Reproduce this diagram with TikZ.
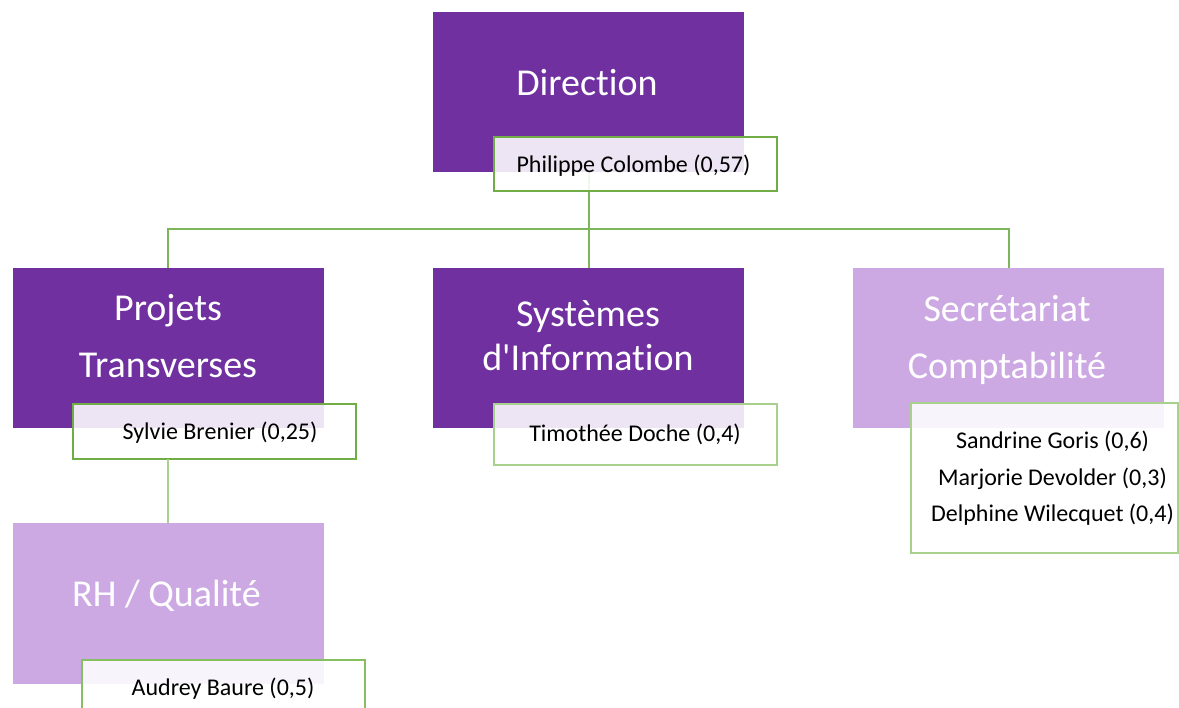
\documentclass[tikz,border=0pt]{standalone}
\usepackage{fontspec}
\setmainfont{Carlito}[Ligatures={TeX,NoCommon}]
\definecolor{dpurple}{HTML}{7030A0}
\definecolor{lpurple}{HTML}{CDA9E4}
\definecolor{dgreen}{HTML}{70AD47}
\definecolor{lgreen}{HTML}{A9D18E}
\definecolor{mgreen}{HTML}{86BE62}
\definecolor{cgreen}{HTML}{7DB65A}
\tikzset{
  unitbox/.style={inner sep=0pt, outer sep=0pt, minimum width=311pt, minimum height=160pt},
  darkunit/.style={unitbox, fill=dpurple},
  lightunit/.style={unitbox, fill=lpurple},
  bigtext/.style={text=white, inner sep=0pt, anchor=base, align=center, font=\fontsize{38}{57}\selectfont},
  personbox/.style={inner sep=0pt, outer sep=0pt, fill=white, fill opacity=0.88, minimum width=283pt},
  persontext/.style={text=black, inner sep=0pt, anchor=base, align=center, font=\fontsize{24}{36.7}\selectfont},
  conn/.style={draw=cgreen, line width=2pt},
}
\begin{document}
\begin{tikzpicture}[x=1pt,y=-1pt]
\useasboundingbox (0,0) rectangle (1179,708);
\clip (0,0) rectangle (1179,708);
% unit boxes
\node[darkunit] (dir) at (588.5,92) {};
\node[darkunit] (proj) at (168,348) {};
\node[darkunit] (sys) at (588.5,348) {};
\node[lightunit] (sec) at (1008.5,348) {};
\node[lightunit] (rh) at (168,603.5) {};
% connectors
\coordinate (bl) at (168,229);
\coordinate (br) at (1008.5,229);
\draw[conn] (dir.south) -- (sys.north);
\draw[conn] (proj.north) -- (bl) -- (br) -- (sec.north);
% person boxes
\node[personbox, draw=dgreen, line width=2.5pt, draw opacity=1, minimum height=54pt] (phil) at (635.5,164) {};
\node[personbox, draw=dgreen, line width=2.5pt, draw opacity=1, minimum height=55pt] (syl) at (214.5,431.5) {};
\node[personbox, draw=lgreen, line width=2pt, draw opacity=1, minimum height=61pt] (tim) at (635.5,434.5) {};
\node[personbox, draw=lgreen, line width=2pt, draw opacity=1, minimum width=267pt, minimum height=150pt] (sand) at (1044.5,478) {};
\node[personbox, draw=mgreen, line width=2pt, draw opacity=1, minimum height=64pt] (aud) at (223.5,692) {};
\draw[conn, draw=lgreen] (syl.south -| proj.south) -- (rh.north);
% unit labels (base = last line)
\node[bigtext] (tdir) at (587,96) {Direction};
\node[bigtext] (tproj) at (168,378) {Projets\\Transverses};
\node[bigtext, font=\fontsize{38}{44}\selectfont] (tsys) at (588,371) {Systèmes\\d\textquotesingle Information};
\node[bigtext] (tsec) at (1007,379) {Secrétariat\\Comptabilité};
\node[bigtext] (trh) at (166.5,606.7) {RH / Qualité};
% person labels
\node[persontext] (tphil) at (633.5,172.3) {Philippe Colombe (0,57)};
\node[persontext] (tsyl) at (220,439.3) {Sylvie Brenier (0,25)};
\node[persontext] (ttim) at (635,442) {Timothée Doche (0,4)};
\node[persontext] (tsand) at (1052.5,521.7) {Sandrine Goris (0,6)\\Marjorie Devolder (0,3)\\Delphine Wilecquet (0,4)};
\node[persontext] (taud) at (223,695) {Audrey Baure (0,5)};
\end{tikzpicture}
\end{document}
